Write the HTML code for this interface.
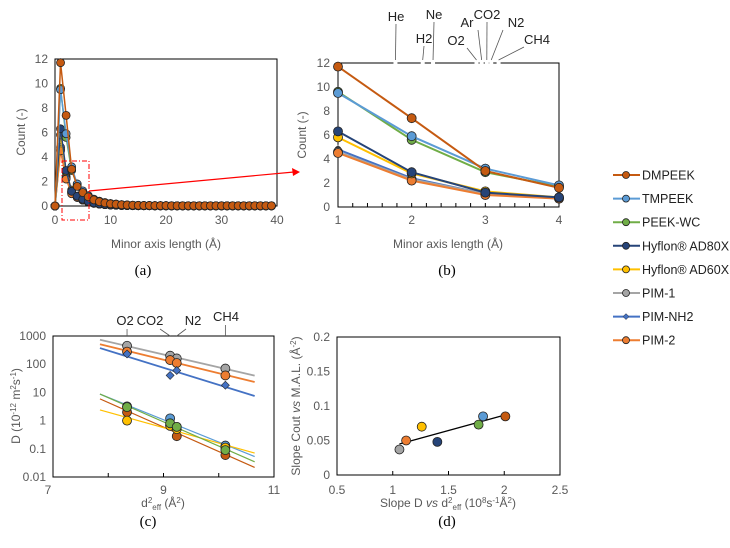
<!DOCTYPE html>
<html><head><meta charset="utf-8">
<style>
body{margin:0;background:#fff}
svg{display:block;font-family:"Liberation Sans",sans-serif}
.tk{fill:#595959;font-size:12px}
.tt{fill:#595959;font-size:12px}
.lab{fill:#000;font-family:"Liberation Serif",serif;font-size:15px}
.gas{fill:#222;font-size:13px}
.leg{fill:#222;font-size:12.5px}
</style></head>
<body>
<svg id="fig" width="730" height="548" viewBox="0 0 730 548" xmlns="http://www.w3.org/2000/svg"></svg>
<script>
// ---- data ----
const seriesNames=["DMPEEK","TMPEEK","PEEK-WC","Hyflon® AD80X","Hyflon® AD60X","PIM-1","PIM-NH2","PIM-2"];
const seriesColors=["#c55a11","#5b9bd5","#70ad47","#264478","#ffc000","#a5a5a5","#4472c4","#ed7d31"];
// panel b: minor axis length 1..4
const bX=[1,2,3,4];
const bDMPEEK=[11.7,7.4,3.0,1.6];
const bTMPEEK=[9.5,5.9,3.2,1.8];
const bPEEKWC=[9.6,5.6,2.9,1.7];
const bAD80X=[6.3,2.9,1.2,0.8];
const bAD60X=[5.8,2.8,1.3,0.8];
const bPIM1=[4.6,2.3,1.1,0.7];
const bPIMNH2=[4.8,2.4,1.1,0.75];
const bPIM2=[4.5,2.2,1.0,0.7];
const bSeries=[bDMPEEK,bTMPEEK,bPEEKWC,bAD80X,bAD60X,bPIM1,bPIMNH2,bPIM2];
// panel a: tail after x=4 (x=5..39)
const aTail=[1.1,0.75,0.5,0.35,0.25,0.18,0.14,0.1,0.08,0.06,0.05,0.04,0.04,0.03,0.03,0.03,0.02,0.02,0.02,0.02,0.02,0.02,0.02,0.02,0.02,0.02,0.02,0.02,0.02,0.02,0.02,0.02,0.02,0.02,0.02];
const aXTicks=[0,10,20,30,40];
const countTicks=[0,2,4,6,8,10,12];
const bXTicks=[1,2,3,4];
const gasNames=["He","H2","Ne","O2","Ar","CO2","N2","CH4"];
const gasMAL=[1.78,2.15,2.29,2.88,2.95,3.02,3.08,3.18];
// panel c
const cX=[8.34,9.12,9.24,10.12];
const cSeriesIdx=[5,7,6,1,0,4,2];
const cPIM1=[450,200,160,70];
const cPIM2=[280,140,110,40];
const cPIMNH2=[230,40,60,18];
const cTMPEEK=[3.2,1.2,0.6,0.13];
const cDMPEEK=[2,0.7,0.28,0.06];
const cAD60X=[1,0.65,0.5,0.11];
const cPEEKWC=[3,0.8,0.6,0.09];
const cSeries=[cPIM1,cPIM2,cPIMNH2,cTMPEEK,cDMPEEK,cAD60X,cPEEKWC];
const cYTicks=[0.01,0.1,1,10,100,1000];
const cYLabels=["0.01","0.1","1","10","100","1000"];
const cXTicks=[7,9,11];
const cGas=["O2","CO2","N2","CH4"];
// panel d
const dX=[1.06,1.12,1.26,1.40,1.77,1.81,2.01];
const dY=[0.037,0.05,0.07,0.048,0.073,0.085,0.085];
const dColorIdx=[5,7,4,3,2,1,0];
const dXTicks=[0.5,1,1.5,2,2.5];
const dYTicks=[0,0.05,0.1,0.15,0.2];

const NS="http://www.w3.org/2000/svg";
const svg=document.getElementById('fig');
function mk(tag,attrs,txt){const e=document.createElementNS(NS,tag);for(const k in attrs)e.setAttribute(k,attrs[k]);if(txt!==undefined)e.textContent=txt;svg.appendChild(e);return e;}
function lin(d0,d1,p0,p1){return v=>p0+(v-d0)/(d1-d0)*(p1-p0);}

// ---------- panel a ----------
const ax=lin(0,40,55,277), ay=lin(0,12,206,59);
let e=mk('rect',{x:55,y:59,width:222,height:147,fill:'none',stroke:'#000','stroke-width':1});


countTicks.forEach(t=>{e=mk('text',{x:48,y:ay(t)+4,'text-anchor':'end',class:'tk'},t);

});
aXTicks.forEach(t=>{e=mk('text',{x:ax(t),y:224,'text-anchor':'middle',class:'tk'},t);

});
e=mk('text',{x:166,y:248,'text-anchor':'middle',class:'tt'},'Minor axis length (Å)');


e=mk('text',{x:25,y:132,'text-anchor':'middle',class:'tt',transform:'rotate(-90 25 132)'},'Count (-)');


const order=[6,5,7,4,3,2,1,0];
order.forEach(si=>{
  const vals=[0].concat(bSeries[si]).concat(aTail.map(v=>v*bSeries[si][3]/1.6));
  const pts=vals.map((v,i)=>ax(i)+','+ay(v)).join(' ');
  e=mk('polyline',{points:pts,fill:'none',stroke:seriesColors[si],'stroke-width':1.5});
  
  
  vals.forEach((v,i)=>{e=mk('circle',{cx:ax(i),cy:ay(v),r:4,fill:seriesColors[si],stroke:'#222','stroke-width':0.8});
  
  });
});
e=mk('rect',{x:62,y:161,width:27,height:59,fill:'none',stroke:'#f00','stroke-width':1,'stroke-dasharray':'5,2,1,2'});


e=mk('line',{x1:89,y1:191,x2:294,y2:172,stroke:'#f00','stroke-width':1.2});


e=mk('polygon',{points:'300,172 292,168 293,176',fill:'#f00'});


e=mk('text',{x:143,y:275,'text-anchor':'middle',class:'lab'},'(a)');



// ---------- panel b ----------
const bx=lin(1,4,338,559), by=lin(0,12,207,63);
e=mk('rect',{x:338,y:63,width:221,height:144,fill:'none',stroke:'#000','stroke-width':1});


for(let i=0;i<=15;i++){const xx=338+i*221/15;e=mk('line',{x1:xx,y1:207,x2:xx,y2:203,stroke:'#000'});

}
countTicks.forEach(t=>{e=mk('text',{x:330,y:by(t)+4,'text-anchor':'end',class:'tk'},t);

});
bXTicks.forEach(t=>{e=mk('text',{x:bx(t),y:224,'text-anchor':'middle',class:'tk'},t);

});
e=mk('text',{x:448,y:248,'text-anchor':'middle',class:'tt'},'Minor axis length (Å)');


e=mk('text',{x:306,y:135,'text-anchor':'middle',class:'tt',transform:'rotate(-90 306 135)'},'Count (-)');


// gas markers
const gasLabelPos=[[396,21],[424,43],[434,19],[456,45],[467,27],[487,19],[516,27],[537,44]];
gasNames.forEach((g,i)=>{
  const gx=bx(gasMAL[i]);
  e=mk('rect',{x:gx-2,y:60,width:4,height:6,fill:'#fff'});
  
  
  const [lx,ly]=gasLabelPos[i];
  e=mk('line',{x1:gx,y1:60,x2:lx<gx-8?lx+11:(lx>gx+8?lx-13:lx),y2:ly+3,stroke:'#555','stroke-width':0.8});
  
  
  e=mk('text',{x:lx,y:ly,'text-anchor':'middle',class:'gas'},g);
  
  
});
order.forEach(si=>{
  const vals=bSeries[si];
  e=mk('polyline',{points:vals.map((v,i)=>bx(bX[i])+','+by(v)).join(' '),fill:'none',stroke:seriesColors[si],'stroke-width':2});
  
  
  vals.forEach((v,i)=>{
    e=mk('line',{x1:bx(bX[i]),y1:by(v+0.4),x2:bx(bX[i]),y2:by(v-0.4),stroke:'#666'});
    
    
    e=mk('circle',{cx:bx(bX[i]),cy:by(v),r:si==6?3:4.5,fill:seriesColors[si],stroke:'#222','stroke-width':0.8});
    
    });
});
e=mk('text',{x:447,y:275,'text-anchor':'middle',class:'lab'},'(b)');



// ---------- legend ----------
seriesNames.forEach((n,i)=>{
  const y=175+i*23.6;
  e=mk('line',{x1:613,y1:y,x2:640,y2:y,stroke:seriesColors[i],'stroke-width':2});
  
  
  if(i==6){e=mk('polygon',{points:`626,${y-3} 629,${y} 626,${y+3} 623,${y}`,fill:seriesColors[i],stroke:'#222','stroke-width':0.5});}
  else e=mk('circle',{cx:626,cy:y,r:3.5,fill:seriesColors[i],stroke:'#222','stroke-width':0.8});
  
  
  e=mk('text',{x:642,y:y+4.5,class:'leg'},n);
  
  
});

// ---------- panel c ----------
const cx=lin(7,11,53,274);
const cy=v=>lin(-2,3,477,336)(Math.log10(v));
e=mk('rect',{x:53,y:336,width:221,height:141,fill:'none',stroke:'#000','stroke-width':1});


[8,9,10].forEach(t=>{e=mk('line',{x1:cx(t),y1:477,x2:cx(t),y2:473,stroke:'#000'});

});
cYTicks.forEach((t,i)=>{e=mk('text',{x:46,y:cy(t)+4,'text-anchor':'end',class:'tk'},cYLabels[i]);

});
cXTicks.forEach(t=>{e=mk('text',{x:cx(t)-(t==7?5:0),y:494,'text-anchor':'middle',class:'tk'},t);

});
e=mk('text',{x:163,y:507,'text-anchor':'middle',class:'tt'});
e.innerHTML='d<tspan dy="-4" font-size="8">2</tspan><tspan dy="7" font-size="8">eff</tspan><tspan dy="-3"> (Å</tspan><tspan dy="-4" font-size="8">2</tspan><tspan dy="4">)</tspan>';


e=mk('text',{x:20,y:406,'text-anchor':'middle',class:'tt',transform:'rotate(-90 20 406)'});
e.innerHTML='D (10<tspan dy="-4" font-size="8">-12</tspan><tspan dy="4"> m</tspan><tspan dy="-4" font-size="8">2</tspan><tspan dy="4">s</tspan><tspan dy="-4" font-size="8">-1</tspan><tspan dy="4">)</tspan>';


const cGasPos=[[125,325],[150,325],[193,325],[226,321]];
cGas.forEach((g,i)=>{
  const [lx,ly]=cGasPos[i];
  e=mk('line',{x1:i==1?160:(i==2?186:cx(cX[i])),y1:i==1?329:(i==2?329:ly+4),x2:cx(cX[i]),y2:336,stroke:'#555','stroke-width':0.8});
  
  
  e=mk('text',{x:lx,y:ly,'text-anchor':'middle',class:'gas'},g);
  
  
});
cSeries.forEach((vals,k)=>{
  const si=cSeriesIdx[k];
  const n=cX.length, mx=cX.reduce((a,b)=>a+b)/n, ly=vals.map(Math.log10), my=ly.reduce((a,b)=>a+b)/n;
  let sxy=0,sxx=0;cX.forEach((x,i)=>{sxy+=(x-mx)*(ly[i]-my);sxx+=(x-mx)*(x-mx);});
  const s=sxy/sxx, f=x=>Math.pow(10,my+s*(x-mx));
  e=mk('line',{x1:cx(7.85),y1:cy(f(7.85)),x2:cx(10.65),y2:cy(f(10.65)),stroke:seriesColors[si],'stroke-width':k<3?1.8:1.2});
  
  
});
cSeries.forEach((vals,k)=>{
  const si=cSeriesIdx[k];
  vals.forEach((v,i)=>{
    if(si==6){e=mk('polygon',{points:`${cx(cX[i])},${cy(v)-4} ${cx(cX[i])+4},${cy(v)} ${cx(cX[i])},${cy(v)+4} ${cx(cX[i])-4},${cy(v)}`,fill:seriesColors[si],stroke:'#222','stroke-width':0.6});}
    else e=mk('circle',{cx:cx(cX[i]),cy:cy(v),r:4.5,fill:seriesColors[si],stroke:'#222','stroke-width':0.8});
    
    
  });
});
e=mk('text',{x:148,y:526,'text-anchor':'middle',class:'lab'},'(c)');



// ---------- panel d ----------
const dx=lin(0.5,2.5,337,560), dy=lin(0,0.2,475,337);
e=mk('rect',{x:337,y:337,width:223,height:138,fill:'none',stroke:'#000','stroke-width':1});


dXTicks.forEach(t=>{e=mk('text',{x:dx(t),y:494,'text-anchor':'middle',class:'tk'},t);


e=mk('line',{x1:dx(t),y1:475,x2:dx(t),y2:471,stroke:'#000'});

});
dYTicks.forEach(t=>{e=mk('text',{x:330,y:dy(t)+4,'text-anchor':'end',class:'tk'},t);

});
e=mk('text',{x:448,y:507,'text-anchor':'middle',class:'tt'});
e.innerHTML='Slope D <tspan font-style="italic">vs</tspan> d<tspan dy="-4" font-size="8">2</tspan><tspan dy="7" font-size="8">eff</tspan><tspan dy="-3"> (10</tspan><tspan dy="-4" font-size="8">8</tspan><tspan dy="4">s</tspan><tspan dy="-4" font-size="8">-1</tspan><tspan dy="4">Å</tspan><tspan dy="-4" font-size="8">2</tspan><tspan dy="4">)</tspan>';


e=mk('text',{x:300,y:406,'text-anchor':'middle',class:'tt',transform:'rotate(-90 300 406)'});
e.innerHTML='Slope Cout <tspan font-style="italic">vs</tspan> M.A.L. (Å<tspan dy="-4" font-size="8">-2</tspan><tspan dy="4">)</tspan>';


(function(){
  const n=dX.length,mx=dX.reduce((a,b)=>a+b)/n,my=dY.reduce((a,b)=>a+b)/n;
  let sxy=0,sxx=0;dX.forEach((x,i)=>{sxy+=(x-mx)*(dY[i]-my);sxx+=(x-mx)*(x-mx);});
  const s=sxy/sxx,f=x=>my+s*(x-mx);
  const x0=Math.min(...dX),x1=Math.max(...dX);
  e=mk('line',{x1:dx(x0),y1:dy(f(x0)),x2:dx(x1),y2:dy(f(x1)),stroke:'#000','stroke-width':1.3});
  
  
})();
dX.forEach((x,i)=>{
  e=mk('circle',{cx:dx(x),cy:dy(dY[i]),r:4.5,fill:seriesColors[dColorIdx[i]],stroke:'#222','stroke-width':0.8});
  
  
});
e=mk('text',{x:447,y:526,'text-anchor':'middle',class:'lab'},'(d)');


</script>
</body></html>
